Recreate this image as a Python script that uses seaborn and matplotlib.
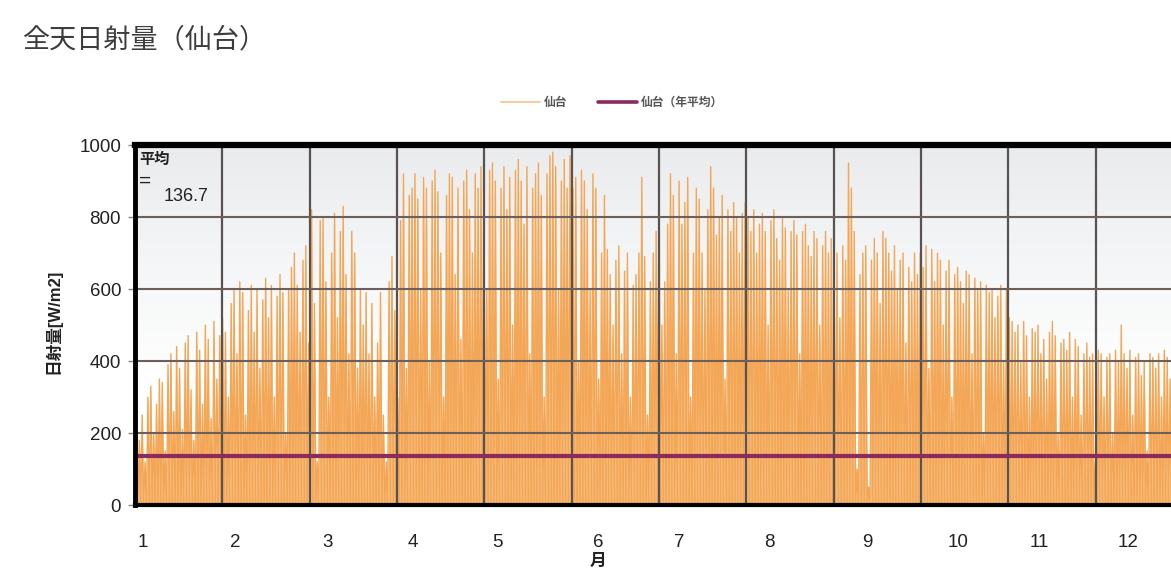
import numpy as np
import pandas as pd
import matplotlib
matplotlib.use("Agg")
import matplotlib.pyplot as plt
from matplotlib.lines import Line2D
from matplotlib.colors import LinearSegmentedColormap
import seaborn as sns

# Daily peak global horizontal irradiance in Sendai [W/m2], one value per day
jan = [290, 180, 250, 120, 300, 330, 200, 280, 350, 340,
       150, 390, 420, 260, 440, 380, 210, 450, 470, 320,
       180, 480, 430, 280, 500, 460, 240, 510, 350, 470,
       520]
feb = [480, 300, 560, 600, 420, 620, 590, 250, 540, 610,
       480, 600, 380, 570, 630, 520, 610, 300, 580, 640,
       590, 200, 600, 660, 700, 610, 480, 680]
mar = [720, 450, 820, 560, 120, 790, 800, 620, 300, 700,
       810, 520, 760, 830, 640, 420, 760, 700, 380, 600,
       500, 590, 420, 560, 300, 450, 590, 250, 120, 620,
       690]
apr = [540, 300, 790, 920, 380, 860, 880, 920, 850, 600,
       910, 880, 400, 900, 930, 870, 700, 300, 860, 920,
       910, 640, 880, 460, 900, 930, 820, 700, 920, 880]
may = [940, 890, 600, 930, 950, 900, 350, 880, 940, 820,
       910, 500, 930, 960, 900, 780, 940, 420, 880, 920,
       950, 860, 300, 920, 970, 980, 940, 600, 900, 960,
       880]
jun = [970, 880, 910, 400, 930, 900, 820, 600, 920, 880,
       350, 700, 860, 710, 640, 500, 680, 720, 420, 650,
       700, 300, 610, 640, 700, 910, 690, 250, 620, 700]
jul = [760, 940, 500, 620, 780, 920, 860, 420, 900, 780,
       840, 910, 300, 700, 880, 850, 700, 600, 820, 940,
       880, 750, 800, 860, 350, 820, 760, 840, 800, 700,
       810]
aug = [840, 800, 760, 820, 700, 780, 810, 760, 500, 790,
       820, 740, 680, 800, 770, 600, 760, 790, 750, 420,
       760, 780, 720, 690, 760, 740, 500, 720, 760, 700,
       740]
sep = [650, 700, 520, 720, 680, 950, 880, 760, 100, 640,
       700, 720, 50, 680, 740, 700, 560, 760, 740, 700,
       650, 720, 600, 680, 700, 450, 660, 620, 700, 640]
oct_ = [700, 660, 720, 380, 710, 620, 700, 680, 500, 650,
        680, 300, 640, 660, 620, 560, 650, 640, 420, 630,
        600, 620, 200, 610, 590, 600, 520, 580, 610, 400,
        600]
nov = [520, 510, 480, 500, 400, 510, 470, 300, 490, 480,
       500, 420, 460, 350, 480, 510, 470, 200, 450, 460,
       430, 480, 300, 460, 440, 250, 420, 450, 410, 420]
dec = [120, 430, 420, 300, 410, 420, 200, 430, 400, 500,
       420, 380, 430, 250, 410, 420, 360, 400, 150, 420,
       410, 380, 420, 300, 430, 410, 350, 420, 400, 380,
       410]

annual_mean = 136.7
month_labels = ["1", "2", "3", "4", "5", "6", "7", "8", "9", "10", "11", "12"]

series_name = "仙台"
mean_name = "仙台（年平均）"
title = "全天日射量（仙台）"
y_label = "日射量[W/m2]"
x_label = "月"

# ---- layout / style ----
label_pos = [2.8, 34.8, 66.9, 96.8, 126.1, 161.3, 189.5, 220.8, 254.9, 286.6, 314.8, 345.8]
orange_line = "#f3a655"
orange_fill = "#f7b875"
mean_color = "#8a2b5b"

sns.set_theme(style="white")
plt.rcParams["font.family"] = ["Liberation Sans", "Noto Sans CJK JP", "DejaVu Sans"]

peaks = np.array(jan + feb + mar + apr + may + jun + jul + aug + sep + oct_ + nov + dec, dtype=float)
n_days = len(peaks)

# each day: zero at night, peak around noon
t = np.arange(0, n_days + 0.5, 0.5)
irr = np.zeros_like(t)
irr[1::2] = peaks
df = pd.DataFrame({"day": t, "irr": irr})

fig = plt.figure(figsize=(11.71, 5.72), dpi=100)
ax = fig.add_axes([135 / 1171, 67 / 572, 1048 / 1171, 360 / 572])

# soft grey gradient toward the top of the plot area
grad = np.linspace(0, 1, 256).reshape(-1, 1)
cmap = LinearSegmentedColormap.from_list("bg", ["#ffffff", "#ffffff", "#f5f6f7", "#eaebec"])
ax.imshow(grad, extent=[0, n_days, 0, 1000], origin="lower", aspect="auto",
          cmap=cmap, zorder=0, interpolation="bilinear")

ax.fill_between(df["day"], 0, df["irr"], color=orange_fill, lw=0, zorder=1)
sns.lineplot(data=df, x="day", y="irr", ax=ax, color=orange_line, lw=1.0,
             estimator=None, sort=False, zorder=2)

# grid over the data
for k in range(1, 12):
    ax.axvline(k * n_days / 12, color="#575352", lw=1.6, zorder=3)
for v in range(200, 1000, 200):
    ax.axhline(v, color="#6d5f5c", lw=1.5, zorder=3)

sns.lineplot(x=[0, n_days], y=[annual_mean, annual_mean], ax=ax, color=mean_color,
             lw=3, zorder=4)

ax.set_xlim(0, n_days)
ax.set_ylim(0, 1000)
ax.set_yticks(range(0, 1001, 200))
ax.set_xticks(label_pos)
ax.set_xticklabels(month_labels, fontsize=13.5, color="#222222")
ax.tick_params(axis="x", length=0, pad=21)
ax.tick_params(axis="y", direction="out", length=5, width=1, color="#888888",
               pad=5, labelsize=13.5, labelcolor="#222222", left=True)

for side, w in (("left", 3.5), ("top", 4.5), ("bottom", 3.0)):
    ax.spines[side].set_visible(True)
    ax.spines[side].set_color("black")
    ax.spines[side].set_linewidth(w)
    ax.spines[side].set_zorder(5)
ax.spines["right"].set_visible(False)

ax.set_xlabel(x_label, fontsize=12, fontweight="bold", color="#222222")
ax.xaxis.set_label_coords((598 - 135) / 1048, -0.135)
ax.set_ylabel(y_label, fontsize=12, fontweight="bold", color="#222222")
ax.yaxis.set_label_coords(-0.07, 0.51)

# mean annotation in the top-left corner
ax.text(0.004, 0.958, "平均", transform=ax.transAxes, fontsize=11, fontweight="bold",
        color="#222222", va="center", ha="left", zorder=6)
ax.text(0.004, 0.9, "=", transform=ax.transAxes, fontsize=15, color="#222222",
        va="center", ha="left", zorder=6)
ax.text(0.027, 0.858, f"{annual_mean}", transform=ax.transAxes, fontsize=13,
        color="#222222", va="center", ha="left", zorder=6)

fig.text(22 / 1171, 1 - 40 / 572, title, fontsize=19.5, color="#3d3d3d",
         va="center", ha="left", family=["Noto Sans CJK JP", "DejaVu Sans"])

handles = [Line2D([], [], color="#f7c08a", lw=1.2),
           Line2D([], [], color=mean_color, lw=2.6)]
fig.legend(handles, [series_name, mean_name], loc="center",
           bbox_to_anchor=(612 / 1171, 1 - 103 / 572), ncol=2, frameon=False,
           handlelength=3.3, handletextpad=0.3, columnspacing=2.6,
           labelcolor="#555555", prop={"weight": "bold", "size": 8.5})

fig.savefig("out.png", dpi=100)
